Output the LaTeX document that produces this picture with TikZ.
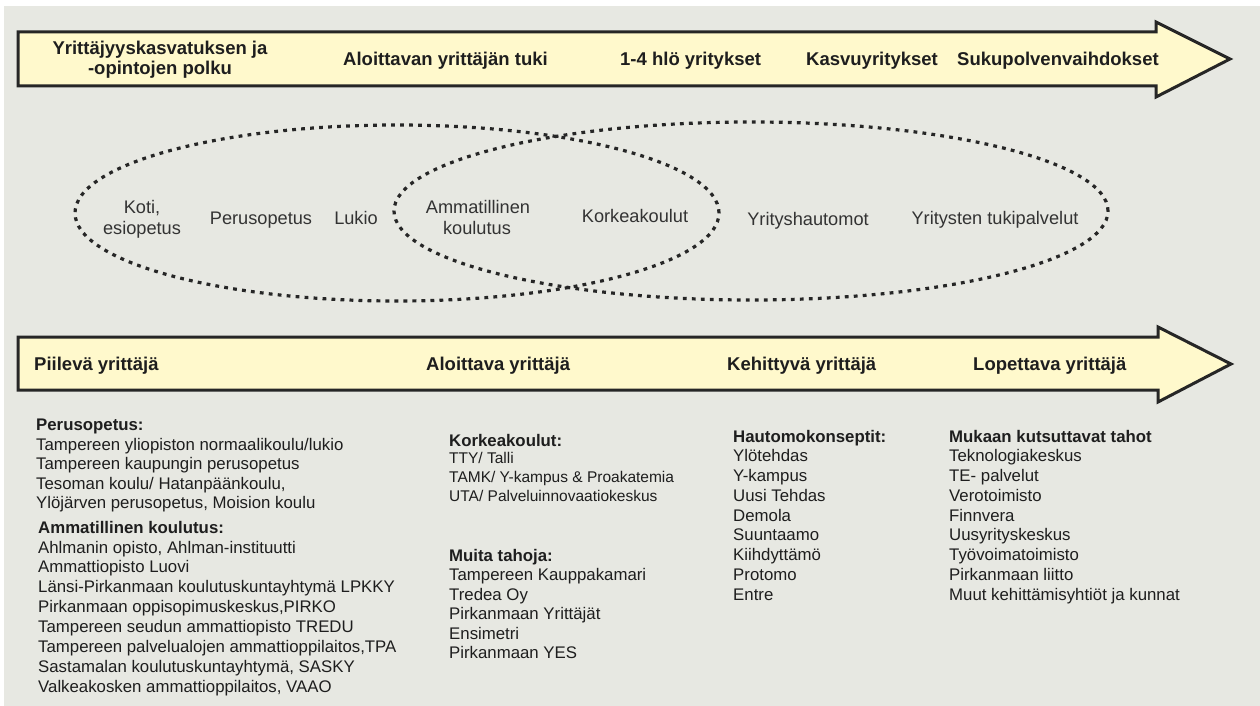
\documentclass[tikz,border=0pt]{standalone}
\usepackage{fontspec}
\setmainfont{Liberation Sans}
\definecolor{bgcol}{HTML}{E7E8E2}
\definecolor{arrowfill}{HTML}{FFF9CC}
\definecolor{outline}{HTML}{262626}
\definecolor{txt}{HTML}{1E1E1E}
\definecolor{ovaltxt}{HTML}{333333}
\begin{document}
\begin{tikzpicture}[x=1pt,y=-1pt,
  arrowshape/.style={fill=arrowfill, draw=outline, line width=3pt, line join=miter},
  ovalline/.style={draw=outline, line width=3.2pt, dash pattern=on 3.8pt off 5.2pt},
  bandlabel/.style={font=\fontsize{18.5}{20}\selectfont\bfseries, text=txt, inner sep=0pt, anchor=base west},
  ovallabel/.style={font=\fontsize{18.2}{21}\selectfont, text=ovaltxt, inner sep=0pt, anchor=base},
  listhead/.style={font=\fontsize{16.8}{20}\selectfont\bfseries, text=txt, inner sep=0pt, anchor=base west},
  item/.style={font=\fontsize{16.8}{20}\selectfont, text=txt, inner sep=0pt, anchor=base west},
  smallitem/.style={font=\fontsize{15.5}{18}\selectfont, text=txt, inner sep=0pt, anchor=base west}]
\useasboundingbox (0,0) rectangle (1260,706);
\fill[white] (0,0) rectangle (1260,706);
\fill[bgcol] (4,6) rectangle (1260,706);

% ---------- top arrow ----------
\draw[arrowshape] (18,32) -- (1156,32) -- (1156,22) -- (1230,59) -- (1156,97) -- (1156,86) -- (18,86) -- cycle;
\node[bandlabel, anchor=base] (t1a) at (160,55) {Yrittäjyyskasvatuksen ja};
\node[bandlabel, anchor=base] (t1b) at (160,75) {-opintojen polku};
\node[bandlabel] (t2) at (343,65.5) {Aloittavan yrittäjän tuki};
\node[bandlabel] (t3) at (620,65.5) {1-4 hlö yritykset};
\node[bandlabel] (t4) at (806,65.5) {Kasvuyritykset};
\node[bandlabel] (t5) at (957,65.5) {Sukupolvenvaihdokset};

% ---------- ellipses ----------
\draw[ovalline] (397,213) ellipse [x radius=322pt, y radius=88pt];
\draw[ovalline] (751,211) ellipse [x radius=357pt, y radius=89pt];
\node[ovallabel] (e1a) at (142,213) {Koti,};
\node[ovallabel] (e1b) at (142,234) {esiopetus};
\node[ovallabel] (e2) at (261,224) {Perusopetus};
\node[ovallabel] (e3) at (356,224) {Lukio};
\node[ovallabel] (e4a) at (478,213) {Ammatillinen};
\node[ovallabel] (e4b) at (477,234) {koulutus};
\node[ovallabel] (e5) at (635,222) {Korkeakoulut};
\node[ovallabel] (e6) at (808,225) {Yrityshautomot};
\node[ovallabel] (e7) at (995,224) {Yritysten tukipalvelut};

% ---------- bottom arrow ----------
\draw[arrowshape] (18,337) -- (1158,337) -- (1158,327) -- (1231,364) -- (1158,402) -- (1158,390) -- (18,390) -- cycle;
\node[bandlabel] (b1) at (34,370.5) {Piilevä yrittäjä};
\node[bandlabel] (b2) at (426,370.5) {Aloittava yrittäjä};
\node[bandlabel] (b3) at (727,370.5) {Kehittyvä yrittäjä};
\node[bandlabel] (b4) at (973,370.5) {Lopettava yrittäjä};

% ---------- column 1 ----------
\node[listhead] (ph) at (36,430) {Perusopetus:};
\foreach \t [count=\i from 0] in {Tampereen yliopiston normaalikoulu/lukio, Tampereen kaupungin perusopetus, {Tesoman koulu/ Hatanpäänkoulu,}, {Ylöjärven perusopetus, Moision koulu}}
  \node[item] (p\i) at (36,450+19.5*\i) {\t};
\node[listhead] (ah) at (38,533) {Ammatillinen koulutus:};
\foreach \t [count=\i from 0] in {{Ahlmanin opisto, Ahlman-instituutti}, Ammattiopisto Luovi, Länsi-Pirkanmaan koulutuskuntayhtymä LPKKY, {Pirkanmaan oppisopimuskeskus,PIRKO}, Tampereen seudun ammattiopisto TREDU, {Tampereen palvelualojen ammattioppilaitos,TPA}, {Sastamalan koulutuskuntayhtymä, SASKY}, {Valkeakosken ammattioppilaitos, VAAO}}
  \node[item] (a\i) at (38,553+19.9*\i) {\t};

% ---------- column 2 ----------
\node[listhead] (kh) at (449,446) {Korkeakoulut:};
\foreach \t [count=\i from 0] in {TTY/ Talli, TAMK/ Y-kampus \& Proakatemia, UTA/ Palveluinnovaatiokeskus}
  \node[smallitem] (k\i) at (449,463+19*\i) {\t};
\node[listhead] (mh) at (449,561) {Muita tahoja:};
\foreach \t [count=\i from 0] in {Tampereen Kauppakamari, Tredea Oy, Pirkanmaan Yrittäjät, Ensimetri, Pirkanmaan YES}
  \node[item] (m\i) at (449,580.5+19.5*\i) {\t};

% ---------- column 3 ----------
\node[listhead] (hh) at (733,442) {Hautomokonseptit:};
\foreach \t [count=\i from 1] in {Ylötehdas, Y-kampus, Uusi Tehdas, Demola, Suuntaamo, Kiihdyttämö, Protomo, Entre}
  \node[item] (h\i) at (733,442+19.75*\i) {\t};

% ---------- column 4 ----------
\node[listhead] (uh) at (949,442) {Mukaan kutsuttavat tahot};
\foreach \t [count=\i from 1] in {Teknologiakeskus, TE- palvelut, Verotoimisto, Finnvera, Uusyrityskeskus, Työvoimatoimisto, Pirkanmaan liitto, Muut kehittämisyhtiöt ja kunnat}
  \node[item] (u\i) at (949,442+19.75*\i) {\t};
\end{tikzpicture}
\end{document}
